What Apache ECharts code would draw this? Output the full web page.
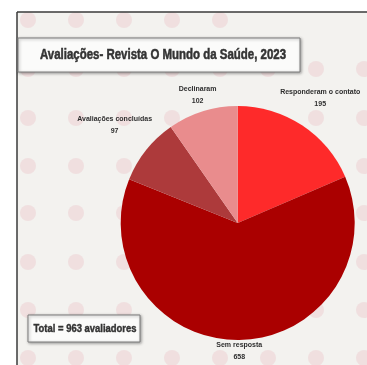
<!DOCTYPE html>
<html>
<head>
<meta charset="utf-8">
<script src="https://cdn.jsdelivr.net/npm/echarts@6/dist/echarts.min.js"></script>
<style>html,body{margin:0;padding:0;background:#fff}#c{width:367px;height:365px}</style>
</head>
<body>
<div id="c"></div>
<script>
const titleText = 'Avaliações- Revista O Mundo da Saúde, 2023';
const totalText = 'Total = 963 avaliadores';
const categories = ['Responderam o contato', 'Sem resposta', 'Avaliações concluídas', 'Declinaram'];
const values = [195, 658, 97, 102];
const colors = ['#fe2a2a', '#aa0000', '#ad3a3b', '#e98c8d'];

const FONT = "'Liberation Sans',Arial,sans-serif";
const cx = 237.7, cy = 223, R = 117;
const sum = values.reduce((a, b) => a + b, 0);

function measure(text, font) {
  const ctx = document.createElement('canvas').getContext('2d');
  ctx.font = font;
  return ctx.measureText(text).width;
}
const titleFont = 'bold 14px ' + FONT;
const totalFont = 'bold 11px ' + FONT;
const titleScale = 246 / measure(titleText, titleFont);
const totalScale = 103 / measure(totalText, totalFont);

const chart = echarts.init(document.getElementById('c'), null, {renderer: 'canvas'});

const graphics = [];
graphics.push({type: 'rect', z: -20, shape: {x: 17, y: 12, width: 350, height: 353}, style: {fill: '#f3f2ef'}});
const dotCols = [28, 76, 124, 172, 220, 268, 316, 364];
const dotRows = [20, 69, 118, 166, 213, 262, 310, 358];
dotRows.forEach((ry, ri) => {
  dotCols.forEach((rx, ci) => {
    if (ri === 0 && ci > 4) return;
    graphics.push({type: 'circle', z: -15, shape: {cx: rx, cy: ry, r: 8}, style: {fill: 'rgba(236,196,200,0.4)'}});
  });
});
graphics.push({type: 'line', z: -5, shape: {x1: 17, y1: 12, x2: 367, y2: 12}, style: {stroke: '#3a3a3a', lineWidth: 1.5}});
graphics.push({type: 'line', z: -5, shape: {x1: 17, y1: 12, x2: 17, y2: 365}, style: {stroke: '#3a3a3a', lineWidth: 1.5}});
graphics.push({type: 'rect', z: 5, shape: {x: 18, y: 38, width: 282, height: 34},
  style: {fill: '#fbfbfa', stroke: '#7d7d7d', lineWidth: 1, shadowBlur: 3, shadowOffsetX: 1, shadowOffsetY: 1, shadowColor: 'rgba(0,0,0,0.35)'}});
graphics.push({type: 'text', z: 6, x: 163, y: 55, scaleX: titleScale,
  style: {text: titleText, fill: '#333', stroke: '#333', lineWidth: 0.5, font: titleFont, align: 'center', verticalAlign: 'middle'}});
graphics.push({type: 'rect', z: 5, shape: {x: 28, y: 315, width: 112, height: 27},
  style: {fill: '#fbfbfa', stroke: '#7d7d7d', lineWidth: 1, shadowBlur: 3, shadowOffsetX: 1, shadowOffsetY: 1, shadowColor: 'rgba(0,0,0,0.35)'}});
graphics.push({type: 'text', z: 6, x: 85, y: 328.5, scaleX: totalScale,
  style: {text: totalText, fill: '#333', stroke: '#333', lineWidth: 0.4, font: totalFont, align: 'center', verticalAlign: 'middle'}});

function midAngle(i) {
  let s = 0;
  for (let k = 0; k < i; k++) s += values[k];
  return ((s + values[i] / 2) / sum) * Math.PI * 2;
}

chart.setOption({
  backgroundColor: '#ffffff',
  animation: false,
  graphic: graphics,
  series: [{
    type: 'pie',
    center: [cx, cy],
    radius: R,
    startAngle: 90,
    clockwise: true,
    avoidLabelOverlap: false,
    data: categories.map((n, i) => ({name: n, value: values[i], itemStyle: {color: colors[i]}})),
    label: {
      show: true,
      position: 'outside',
      formatter: '{b}\n{c}',
      fontFamily: FONT,
      fontWeight: 'bold',
      fontSize: 7,
      lineHeight: 12,
      color: '#2e2e2e'
    },
    labelLine: {show: false},
    labelLayout: function (p) {
      const a = midAngle(p.dataIndex);
      const w = p.labelRect.width;
      const rr = 128 + Math.abs(Math.sin(a)) * w / 2;
      return {x: cx + rr * Math.sin(a), y: cy - rr * Math.cos(a), align: 'center', verticalAlign: 'middle'};
    },
    emphasis: {disabled: true}
  }]
});
</script>
</body>
</html>
